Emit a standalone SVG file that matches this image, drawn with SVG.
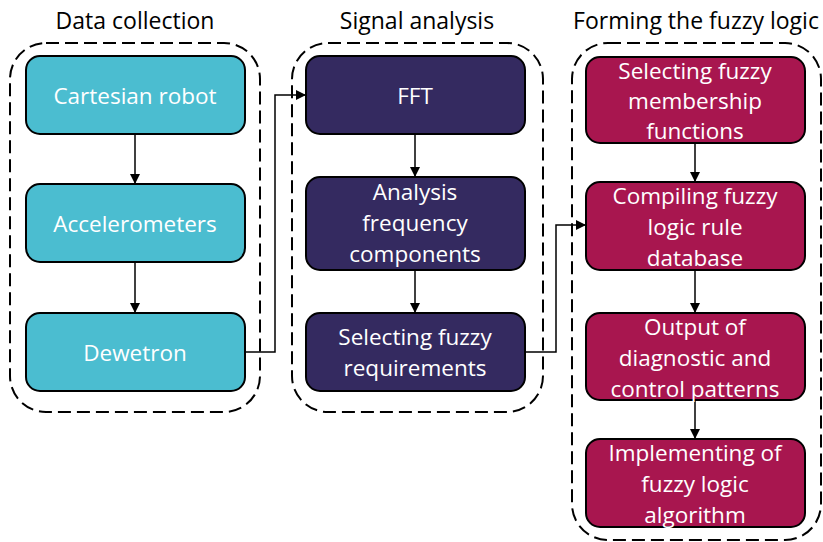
<svg xmlns="http://www.w3.org/2000/svg" width="823" height="542" viewBox="0 0 823 542">
<defs>
<marker id="ah" viewBox="0 0 10 10" refX="10" refY="5" markerWidth="10" markerHeight="10" markerUnits="userSpaceOnUse" orient="auto"><path d="M0,0 L10,5 L0,10 z" fill="#000"/></marker>
<style>
.grp{fill:none;stroke:#000;stroke-width:2;stroke-dasharray:13,6}
.n{stroke:#000;stroke-width:2}
.c{fill:#4BBDD0}.p{fill:#342A60}.m{fill:#A8164F}
.t{font-family:"Open Sans","Noto Sans",sans-serif;font-size:22.5px;fill:#fff;text-anchor:middle}
.h{font-family:"Open Sans","Noto Sans",sans-serif;font-size:23px;fill:#000;text-anchor:middle}
.e{fill:none;stroke:#000;stroke-width:1.5;marker-end:url(#ah)}
</style>
</defs>
<g id="titles">
<text class="h" x="135" y="29">Data collection</text>
<text class="h" x="417" y="29">Signal analysis</text>
<text class="h" x="696" y="29">Forming the fuzzy logic</text>
</g>
<g id="groups">
<rect class="grp" x="10" y="43" width="250" height="369" rx="36"/>
<rect class="grp" x="292" y="43" width="251" height="369" rx="36"/>
<rect class="grp" x="572" y="43" width="249" height="497" rx="36"/>
</g>
<g id="connectors">
<path class="e" d="M135,134 V184"/>
<path class="e" d="M135,262 V313"/>
<path class="e" d="M245,352 H275 V95 H306"/>
<path class="e" d="M415,134 V177"/>
<path class="e" d="M415,270 V313"/>
<path class="e" d="M525,352 H556 V225 H586"/>
<path class="e" d="M695,143 V182"/>
<path class="e" d="M695,270 V313"/>
<path class="e" d="M695,400 V439"/>
</g>
<g id="cartesian"><rect class="n c" x="26" y="56" width="219" height="78" rx="14"/><text class="t" x="135" y="104">Cartesian robot</text></g>
<g id="accelerometers"><rect class="n c" x="26" y="184" width="219" height="78" rx="14"/><text class="t" x="135" y="232">Accelerometers</text></g>
<g id="dewetron"><rect class="n c" x="26" y="313" width="219" height="78" rx="14"/><text class="t" x="135" y="361">Dewetron</text></g>
<g id="fft"><rect class="n p" x="306" y="56" width="219" height="78" rx="14"/><text class="t" x="415" y="104">FFT</text></g>
<g id="analysis"><rect class="n p" x="306" y="177" width="219" height="93" rx="14"/><text class="t" x="415" y="200">Analysis</text><text class="t" x="415" y="231">frequency</text><text class="t" x="415" y="262">components</text></g>
<g id="requirements"><rect class="n p" x="306" y="313" width="219" height="78" rx="14"/><text class="t" x="415" y="345">Selecting fuzzy</text><text class="t" x="415" y="376">requirements</text></g>
<g id="membership"><rect class="n m" x="586" y="57" width="219" height="86" rx="14"/><text class="t" x="695" y="79">Selecting fuzzy</text><text class="t" x="695" y="109">membership</text><text class="t" x="695" y="139">functions</text></g>
<g id="rules"><rect class="n m" x="586" y="182" width="219" height="88" rx="14"/><text class="t" x="695" y="204">Compiling fuzzy</text><text class="t" x="695" y="235">logic rule</text><text class="t" x="695" y="266">database</text></g>
<g id="output"><rect class="n m" x="586" y="313" width="219" height="87" rx="14"/><text class="t" x="695" y="335">Output of</text><text class="t" x="695" y="366">diagnostic and</text><text class="t" x="695" y="397">control patterns</text></g>
<g id="implementing"><rect class="n m" x="586" y="439" width="219" height="88" rx="14"/><text class="t" x="695" y="461">Implementing of</text><text class="t" x="695" y="492">fuzzy logic</text><text class="t" x="695" y="523">algorithm</text></g>
</svg>
